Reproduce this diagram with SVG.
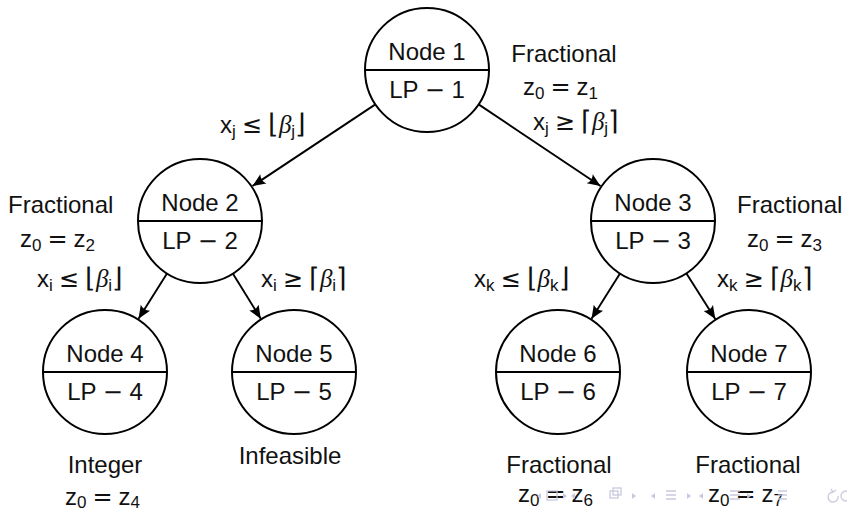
<svg xmlns="http://www.w3.org/2000/svg" width="847" height="512" viewBox="0 0 847 512">
<style>
  .c{fill:#fff;stroke:#000;stroke-width:2}
  .d{stroke:#000;stroke-width:2}
  .e{stroke:#000;stroke-width:1.9;fill:none}
  text{font-family:"Liberation Sans","DejaVu Sans",sans-serif;font-size:24px;fill:#111}
  .n{text-anchor:middle}
  .s{font-size:17px}
  .o{font-family:"DejaVu Sans",sans-serif;font-size:24px}
  .k{font-family:"DejaVu Sans",sans-serif;font-size:27px;font-weight:300}
  .b{font-family:"Liberation Serif","DejaVu Serif",serif;font-style:italic;font-size:25px}
  .nav{fill:#c4c4dc;stroke:none}
  .navs{fill:none;stroke:#c4c4dc;stroke-width:1.3}
</style>
<defs>
  <marker id="ah" markerUnits="userSpaceOnUse" markerWidth="16" markerHeight="12" viewBox="-14 -6 16 12" refX="0" refY="0" orient="auto">
    <path d="M0,0 L-13,-5.5 Q-9.5,0 -13,5.5 Z" fill="#000"/>
  </marker>
</defs>

<g id="connectors">
  <line class="e" x1="375.4" y1="104.4" x2="252.5" y2="186" marker-end="url(#ah)"/>
  <line class="e" x1="478.6" y1="104.4" x2="600.5" y2="186" marker-end="url(#ah)"/>
  <line class="e" x1="167" y1="273.5" x2="138.5" y2="318.8" marker-end="url(#ah)"/>
  <line class="e" x1="232.8" y1="273.6" x2="260.8" y2="318.7" marker-end="url(#ah)"/>
  <line class="e" x1="620" y1="273.5" x2="591.5" y2="318.8" marker-end="url(#ah)"/>
  <line class="e" x1="686.3" y1="273.3" x2="715.3" y2="319" marker-end="url(#ah)"/>
</g>

<g id="node1">
  <circle class="c" cx="427" cy="70" r="62"/>
  <line class="d" x1="365" y1="70" x2="489" y2="70"/>
  <text class="n" x="427" y="60">Node 1</text>
  <text class="n" x="427" y="98">LP <tspan class="o">−</tspan> 1</text>
</g>
<g id="node2">
  <circle class="c" cx="200" cy="221" r="62"/>
  <line class="d" x1="138" y1="221" x2="262" y2="221"/>
  <text class="n" x="200" y="211">Node 2</text>
  <text class="n" x="200" y="249">LP <tspan class="o">−</tspan> 2</text>
</g>
<g id="node3">
  <circle class="c" cx="653" cy="221" r="62"/>
  <line class="d" x1="591" y1="221" x2="715" y2="221"/>
  <text class="n" x="653" y="211">Node 3</text>
  <text class="n" x="653" y="249">LP <tspan class="o">−</tspan> 3</text>
</g>
<g id="node4">
  <circle class="c" cx="105" cy="372" r="62"/>
  <line class="d" x1="43" y1="372" x2="167" y2="372"/>
  <text class="n" x="105" y="362">Node 4</text>
  <text class="n" x="105" y="400">LP <tspan class="o">−</tspan> 4</text>
</g>
<g id="node5">
  <circle class="c" cx="294" cy="372" r="62"/>
  <line class="d" x1="232" y1="372" x2="356" y2="372"/>
  <text class="n" x="294" y="362">Node 5</text>
  <text class="n" x="294" y="400">LP <tspan class="o">−</tspan> 5</text>
</g>
<g id="node6">
  <circle class="c" cx="558" cy="372" r="62"/>
  <line class="d" x1="496" y1="372" x2="620" y2="372"/>
  <text class="n" x="558" y="362">Node 6</text>
  <text class="n" x="558" y="400">LP <tspan class="o">−</tspan> 6</text>
</g>
<g id="node7">
  <circle class="c" cx="749" cy="372" r="62"/>
  <line class="d" x1="687" y1="372" x2="811" y2="372"/>
  <text class="n" x="749" y="362">Node 7</text>
  <text class="n" x="749" y="400">LP <tspan class="o">−</tspan> 7</text>
</g>

<g id="labels">
  <text class="n" x="564" y="62">Fractional</text>
  <text x="523" y="95">z<tspan class="s" dy="4">0</tspan><tspan class="o" dy="-4" dx="6">=</tspan><tspan dx="6">z</tspan><tspan class="s" dy="4">1</tspan></text>
  <text x="533" y="130">x<tspan class="s" dy="4">j</tspan><tspan class="o" dy="-4" dx="6">≥</tspan><tspan class="k" dx="6">⌈</tspan><tspan class="b">β</tspan><tspan class="s" dy="4">j</tspan><tspan class="k" dy="-4">⌉</tspan></text>
  <text x="220" y="133">x<tspan class="s" dy="4">j</tspan><tspan class="o" dy="-4" dx="6">≤</tspan><tspan class="k" dx="6">⌊</tspan><tspan class="b">β</tspan><tspan class="s" dy="4">j</tspan><tspan class="k" dy="-4">⌋</tspan></text>

  <text x="8" y="213">Fractional</text>
  <text x="20" y="247">z<tspan class="s" dy="4">0</tspan><tspan class="o" dy="-4" dx="6">=</tspan><tspan dx="6">z</tspan><tspan class="s" dy="4">2</tspan></text>
  <text x="37" y="287">x<tspan class="s" dy="4">i</tspan><tspan class="o" dy="-4" dx="6">≤</tspan><tspan class="k" dx="6">⌊</tspan><tspan class="b">β</tspan><tspan class="s" dy="4">i</tspan><tspan class="k" dy="-4">⌋</tspan></text>
  <text x="261" y="287">x<tspan class="s" dy="4">i</tspan><tspan class="o" dy="-4" dx="6">≥</tspan><tspan class="k" dx="6">⌈</tspan><tspan class="b">β</tspan><tspan class="s" dy="4">i</tspan><tspan class="k" dy="-4">⌉</tspan></text>

  <text x="737" y="213">Fractional</text>
  <text x="747" y="247">z<tspan class="s" dy="4">0</tspan><tspan class="o" dy="-4" dx="6">=</tspan><tspan dx="6">z</tspan><tspan class="s" dy="4">3</tspan></text>
  <text x="474" y="287">x<tspan class="s" dy="4">k</tspan><tspan class="o" dy="-4" dx="6">≤</tspan><tspan class="k" dx="6">⌊</tspan><tspan class="b">β</tspan><tspan class="s" dy="4">k</tspan><tspan class="k" dy="-4">⌋</tspan></text>
  <text x="717" y="287">x<tspan class="s" dy="4">k</tspan><tspan class="o" dy="-4" dx="6">≥</tspan><tspan class="k" dx="6">⌈</tspan><tspan class="b">β</tspan><tspan class="s" dy="4">k</tspan><tspan class="k" dy="-4">⌉</tspan></text>

  <text class="n" x="105" y="473">Integer</text>
  <text x="65" y="505">z<tspan class="s" dy="3">0</tspan><tspan class="o" dy="-3" dx="6">=</tspan><tspan dx="6">z</tspan><tspan class="s" dy="3">4</tspan></text>
  <text class="n" x="290" y="464">Infeasible</text>
  <text class="n" x="559" y="473">Fractional</text>
  <text x="518" y="502">z<tspan class="s" dy="4">0</tspan><tspan class="o" dy="-4" dx="6">=</tspan><tspan dx="6">z</tspan><tspan class="s" dy="4">6</tspan></text>
  <text class="n" x="748" y="473">Fractional</text>
  <text x="708" y="502">z<tspan class="s" dy="4">0</tspan><tspan class="o" dy="-4" dx="6">=</tspan><tspan dx="6">z</tspan><tspan class="s" dy="4">7</tspan></text>
</g>

<g id="navigation" opacity="0.9">
  <path class="nav" d="M541,493 l-4,3 l4,3 z"/>
  <rect class="navs" x="547" y="491" width="10" height="9"/>
  <path class="nav" d="M563,493 l4,3 l-4,3 z"/>
  <path class="nav" d="M575,493 l-4,3 l4,3 z"/>
  <rect class="navs" x="610" y="491" width="8" height="7"/>
  <rect class="navs" x="613" y="488" width="8" height="7"/>
  <path class="nav" d="M632,493 l4,3 l-4,3 z"/>
  <path class="nav" d="M655,493 l-4,3 l4,3 z"/>
  <path class="navs" d="M666,491 h10 M666,495 h10 M666,499 h10"/>
  <path class="nav" d="M687,493 l4,3 l-4,3 z"/>
  <path class="nav" d="M703,493 l-4,3 l4,3 z"/>
  <path class="navs" d="M730,491 h10 M730,495 h10 M730,499 h10"/>
  <path class="nav" d="M747,493 l4,3 l-4,3 z"/>
  <path class="navs" d="M778,491 h9 M778,495 h9 M778,499 h9"/>
  <path class="navs" d="M833,492 a5,5 0 1 0 5,4 M831,489 l2,3 l3,-2"/>
  <circle class="navs" cx="846" cy="496" r="5"/>
</g>
</svg>
